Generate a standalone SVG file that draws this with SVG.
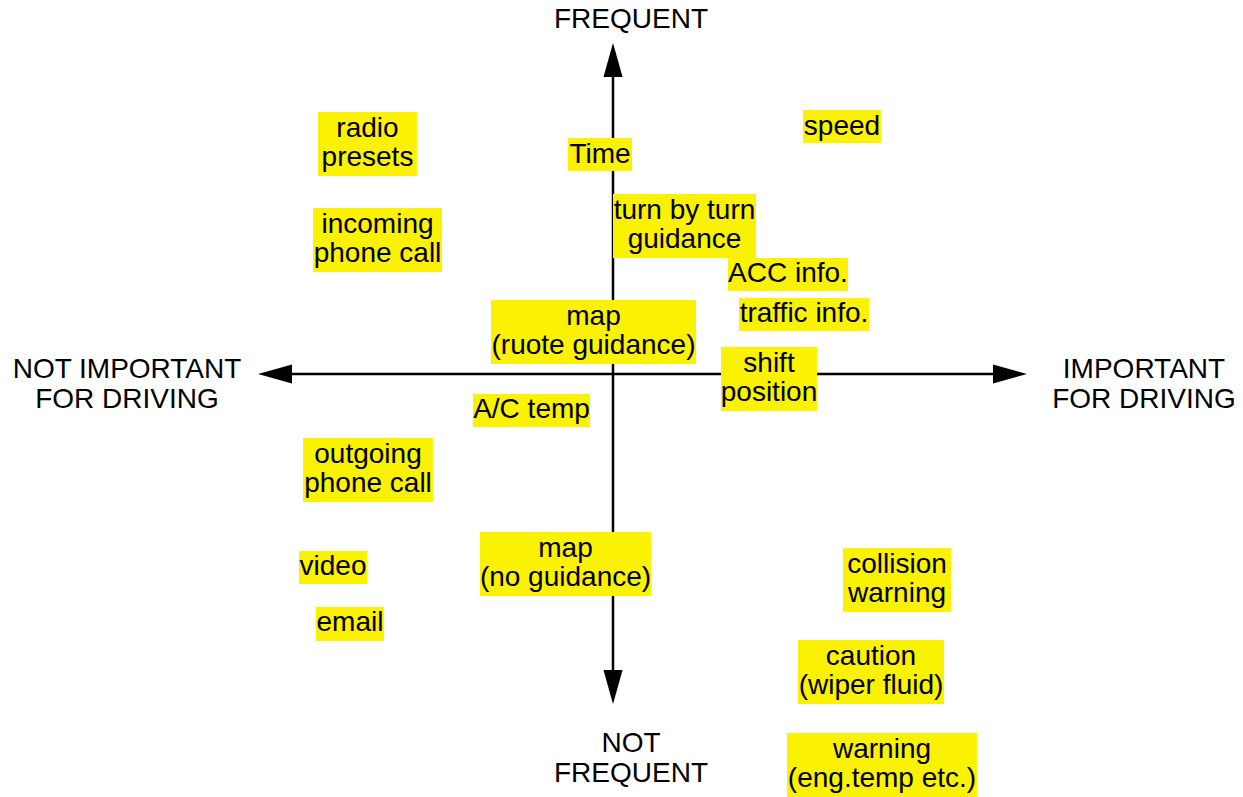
<svg xmlns="http://www.w3.org/2000/svg" width="1243" height="797" viewBox="0 0 1243 797">
<style>
  .bx { fill: #FAF200; }
  .t { font-family: "Liberation Sans", Arial, Helvetica, sans-serif; font-size: 28px; fill: #000; text-anchor: middle; }
  .ax { stroke: #000; stroke-width: 2.5; fill: none; }
</style>
<defs>
  <marker id="ah" markerUnits="userSpaceOnUse" markerWidth="34" markerHeight="20" viewBox="0 0 32 18" refX="0" refY="9" orient="auto-start-reverse">
    <path d="M0,0 L32,9 L0,18 Z" fill="#000"/>
  </marker>
</defs>
<rect width="1243" height="797" fill="#fff"/>
<g id="connectors">
  <line class="ax" x1="613" y1="670" x2="613" y2="77" marker-start="url(#ah)" marker-end="url(#ah)"/>
  <line class="ax" x1="292" y1="374" x2="993" y2="374" marker-start="url(#ah)" marker-end="url(#ah)"/>
</g>
<g id="axis-labels">
  <text class="t" x="631" y="28">FREQUENT</text>
  <text class="t" x="631" y="752">NOT</text>
  <text class="t" x="631" y="782">FREQUENT</text>
  <text class="t" x="127" y="378">NOT IMPORTANT</text>
  <text class="t" x="127" y="408">FOR DRIVING</text>
  <text class="t" x="1144" y="378">IMPORTANT</text>
  <text class="t" x="1144" y="408">FOR DRIVING</text>
</g>
<g id="radio-presets">
  <rect class="bx" x="318" y="112" width="99" height="64"/>
  <text class="t" x="367.5" y="137">radio</text>
  <text class="t" x="367.5" y="166">presets</text>
</g>
<g id="incoming-phone-call">
  <rect class="bx" x="313" y="208" width="129" height="64"/>
  <text class="t" x="377.5" y="233">incoming</text>
  <text class="t" x="377.5" y="262">phone call</text>
</g>
<g id="time">
  <rect class="bx" x="568" y="138" width="64" height="33"/>
  <text class="t" x="600" y="163">Time</text>
</g>
<g id="speed">
  <rect class="bx" x="803" y="110" width="78" height="33"/>
  <text class="t" x="842" y="135">speed</text>
</g>
<g id="turn-by-turn">
  <rect class="bx" x="613" y="194" width="143" height="64"/>
  <text class="t" x="684.5" y="219">turn by turn</text>
  <text class="t" x="684.5" y="248">guidance</text>
</g>
<g id="acc-info">
  <rect class="bx" x="728" y="258" width="120" height="33"/>
  <text class="t" x="788" y="282">ACC info.</text>
</g>
<g id="traffic-info">
  <rect class="bx" x="739" y="298" width="130" height="33"/>
  <text class="t" x="804" y="322">traffic info.</text>
</g>
<g id="map-route-guidance">
  <rect class="bx" x="491" y="300" width="205" height="64"/>
  <text class="t" x="593.5" y="325">map</text>
  <text class="t" x="593.5" y="354">(ruote guidance)</text>
</g>
<g id="shift-position">
  <rect class="bx" x="721" y="347" width="96" height="64"/>
  <text class="t" x="769" y="372">shift</text>
  <text class="t" x="769" y="401">position</text>
</g>
<g id="ac-temp">
  <rect class="bx" x="473" y="394" width="117" height="33"/>
  <text class="t" x="531.5" y="418">A/C temp</text>
</g>
<g id="outgoing-phone-call">
  <rect class="bx" x="303" y="438" width="130" height="64"/>
  <text class="t" x="368" y="463">outgoing</text>
  <text class="t" x="368" y="492">phone call</text>
</g>
<g id="video">
  <rect class="bx" x="299" y="551" width="68" height="33"/>
  <text class="t" x="333" y="575">video</text>
</g>
<g id="email">
  <rect class="bx" x="316" y="607" width="68" height="34"/>
  <text class="t" x="350" y="631">email</text>
</g>
<g id="map-no-guidance">
  <rect class="bx" x="480" y="532" width="171" height="64"/>
  <text class="t" x="565.5" y="557">map</text>
  <text class="t" x="565.5" y="586">(no guidance)</text>
</g>
<g id="collision-warning">
  <rect class="bx" x="843" y="548" width="108" height="64"/>
  <text class="t" x="897" y="573">collision</text>
  <text class="t" x="897" y="602">warning</text>
</g>
<g id="caution">
  <rect class="bx" x="798" y="640" width="146" height="64"/>
  <text class="t" x="871" y="665">caution</text>
  <text class="t" x="871" y="694">(wiper fluid)</text>
</g>
<g id="warning">
  <rect class="bx" x="787" y="733" width="190" height="64"/>
  <text class="t" x="882" y="758">warning</text>
  <text class="t" x="882" y="787">(eng.temp etc.)</text>
</g>
</svg>
